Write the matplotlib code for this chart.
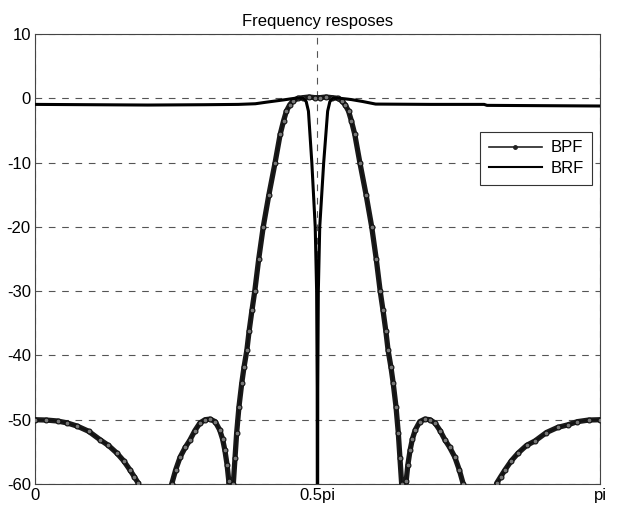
import numpy as np
import matplotlib.pyplot as plt
from matplotlib.lines import Line2D

plt.rcParams['font.family'] = ['Liberation Sans', 'DejaVu Sans']
plt.rcParams['axes.unicode_minus'] = False

# frequency in units of pi, magnitude in dB
bpf_w = [0.0, 0.02, 0.04, 0.057, 0.075, 0.095, 0.115, 0.13, 0.145, 0.157, 0.168, 0.176, 0.183, 0.189,
         0.238, 0.242, 0.249, 0.257, 0.266, 0.274, 0.283, 0.292, 0.301, 0.310, 0.319, 0.327, 0.332,
         0.336, 0.340, 0.343, 0.346,
         0.348, 0.351, 0.354, 0.357, 0.361, 0.366, 0.370, 0.375, 0.379, 0.384, 0.389, 0.396, 0.404,
         0.414, 0.425, 0.434, 0.440, 0.445, 0.451, 0.457, 0.465, 0.475, 0.485, 0.495, 0.505, 0.515,
         0.525, 0.536, 0.543, 0.549, 0.555, 0.560, 0.566, 0.575, 0.586, 0.596, 0.604, 0.611, 0.616,
         0.621, 0.625, 0.630, 0.634, 0.639, 0.643, 0.646, 0.649, 0.652,
         0.654, 0.657, 0.660, 0.664, 0.668, 0.673, 0.681, 0.690, 0.699, 0.708, 0.717, 0.726, 0.734,
         0.743, 0.751, 0.758, 0.762,
         0.811, 0.817, 0.824, 0.832, 0.843, 0.855, 0.87, 0.885, 0.905, 0.925, 0.943, 0.96, 0.98, 1.0]
bpf_db = [-50.0, -50.05, -50.2, -50.5, -51.0, -51.8, -53.1, -54.0, -55.2, -56.4, -57.8, -58.9, -59.9, -90,
          -90, -60, -57.8, -55.8, -54.3, -53.2, -51.7, -50.5, -50.0, -49.9, -50.3, -51.6, -53.0,
          -54.7, -57.0, -59.5, -90,
          -90, -60, -56, -52, -48, -44.3, -41.8, -39.2, -36.2, -33, -30, -25, -20,
          -15, -10, -5.6, -3.5, -2.0, -1.0, -0.4, 0.0, 0.1, 0.2, 0.1, 0.1, 0.2,
          0.1, 0.0, -0.4, -1.0, -2.0, -3.5, -5.6, -10, -15, -20, -25, -30, -33,
          -36.2, -39.2, -41.8, -44.3, -48, -52, -56, -60, -90,
          -90, -59.5, -57.0, -54.7, -53.0, -51.6, -50.3, -49.9, -50.0, -50.5, -51.7, -53.2, -54.3,
          -55.8, -57.8, -60, -90,
          -90, -59.9, -58.9, -57.8, -56.4, -55.2, -54.0, -53.3, -52.0, -51.2, -50.8, -50.3, -50.05, -50.0]

brf_w = [0.0, 0.1, 0.2, 0.3, 0.36, 0.39, 0.41, 0.44, 0.46, 0.475, 0.48, 0.484, 0.490, 0.496,
         0.4985, 0.4995, 0.5, 0.5005, 0.5015, 0.504, 0.511, 0.518, 0.522, 0.527, 0.54, 0.56, 0.58,
         0.603, 0.7, 0.795, 0.8, 1.0]
brf_db = [-0.95, -1.0, -1.05, -1.0, -0.95, -0.85, -0.6, -0.25, 0.0, 0.0, -0.5, -2, -10, -20,
          -30, -45, -90, -45, -30, -20, -10, -2, -0.5, 0.0, 0.0, -0.2, -0.5,
          -0.9, -0.95, -0.95, -1.1, -1.2]

xticks = [0, 0.5, 1]
xlabels = ['0', '0.5pi', 'pi']
yticks = list(range(-60, 11, 10))

fig = plt.figure(figsize=(6.17, 5.09), dpi=100)
ax = fig.add_axes([0.0567, 0.0491, 0.9157, 0.8841])

x1 = np.array(bpf_w) * np.pi
x2 = np.array(brf_w) * np.pi

# thick trace under the dotted one
ax.plot(x1, bpf_db, color='#1a1a1a', lw=3.8, solid_capstyle='round', zorder=3)
ax.plot(x1, bpf_db, color='#111111', lw=1, marker='o', markersize=3.5,
        markerfacecolor='#777777', markeredgecolor='#111111', markeredgewidth=0.8, zorder=4)
ax.plot(x2, brf_db, color='black', lw=2.2, zorder=5)

ax.set_xlim(0, np.pi)
ax.set_ylim(-60, 10)
ax.set_xticks(np.array(xticks) * np.pi)
ax.set_xticklabels(xlabels)
ax.set_yticks(yticks)
ax.tick_params(length=0, labelsize=12, pad=3)
ax.grid(True, color='#555555', lw=0.8, linestyle=(0, (6, 6)))
for s in ax.spines.values():
    s.set_color('#444444')
    s.set_linewidth(0.8)

ax.set_title('Frequency resposes', fontsize=12, pad=6)

handles = [Line2D([], [], color='#222222', lw=1.2, marker='.', markersize=5),
           Line2D([], [], color='black', lw=1.5)]
leg = ax.legend(handles, ['BPF', 'BRF'], loc='upper right', bbox_to_anchor=(0.986, 0.782),
                fontsize=12, handlelength=3.2, handletextpad=0.5, fancybox=False,
                framealpha=1, borderaxespad=0, borderpad=0.5, labelspacing=0.35)
leg.get_frame().set_edgecolor('#333333')
leg.get_frame().set_linewidth(0.8)

fig.savefig('out.png', dpi=100)
